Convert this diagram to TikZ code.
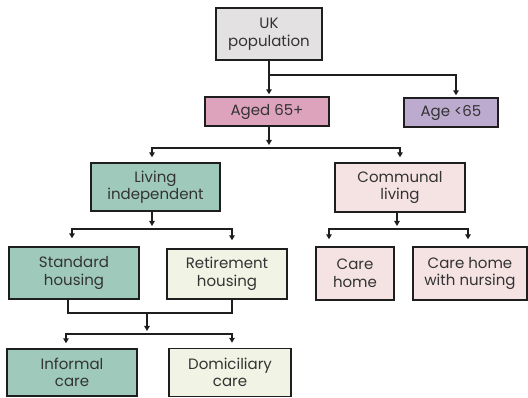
\documentclass[tikz,border=0pt]{standalone}
\usepackage{fontspec}
\setmainfont{Poppins}
\usetikzlibrary{arrows.meta}
\definecolor{cgrey}{HTML}{E3E1E2}
\definecolor{cpink}{HTML}{DDA3BC}
\definecolor{clav}{HTML}{BDABCF}
\definecolor{cteal}{HTML}{9FC9BB}
\definecolor{clight}{HTML}{F5E2E3}
\definecolor{ccream}{HTML}{F1F3E4}
\definecolor{ctext}{HTML}{333333}
\definecolor{cline}{HTML}{1E1E1E}
\tikzset{
  box/.style={draw=cline, line width=1.4pt, align=center, text=ctext,
    font=\fontsize{15}{17.5}\selectfont, inner sep=0pt},
  link/.style={draw=cline, line width=1.2pt},
  arr/.style={link, -{Triangle[length=5pt,width=5.5pt]}},
}
\begin{document}
\begin{tikzpicture}[x=1pt,y=-1pt]
\useasboundingbox (0,0) rectangle (528,398);
% boxes
\node[box, fill=cgrey, minimum width=106pt, minimum height=52pt] (up) at (269,34) {UK\\population};
\node[box, fill=cpink, minimum width=124pt, minimum height=29pt] (aged) at (267,111.5) {Aged 65+};
\node[box, fill=clav, minimum width=94pt, minimum height=29pt] (under) at (451,112.5) {Age <65};
\node[box, fill=cteal, minimum width=129pt, minimum height=48pt] (living) at (155.5,187) {Living\\independent};
\node[box, fill=clight, minimum width=130pt, minimum height=49pt] (communal) at (400,187.5) {Communal\\living};
\node[box, fill=cteal, minimum width=130pt, minimum height=52pt] (standard) at (74,273) {Standard\\housing};
\node[box, fill=ccream, minimum width=120pt, minimum height=50pt] (retire) at (227,274) {Retirement\\housing};
\node[box, fill=clight, minimum width=78pt, minimum height=53pt] (carehome) at (355,273.5) {Care\\home};
\node[box, fill=clight, minimum width=114pt, minimum height=53pt] (nursing) at (470,273.5) {Care home\\with nursing};
\node[box, fill=cteal, minimum width=130pt, minimum height=47pt] (informal) at (72,372.5) {Informal\\care};
\node[box, fill=ccream, minimum width=122pt, minimum height=48pt] (domic) at (230,372.5) {Domiciliary\\care};
% junction coordinates
\coordinate (b0) at (269,75);
\coordinate (b1) at (269,148);
\coordinate (b2) at (152,229);
\coordinate (b3) at (397,229);
\coordinate (b4) at (147,313);
\coordinate (b5) at (147,334);
% UK population
\draw[arr, shorten >=2pt] (up.south) -- (up.south |- aged.north);
\draw[arr, shorten >=2pt] (b0) -| (456,0 |- under.north);
% Aged 65+
\draw[arr, shorten >=3pt] (aged.south -| b1) -- (b1);
\draw[arr, shorten >=5pt] (b1) -| (152,0 |- living.north);
\draw[arr, shorten >=5pt] (b1) -| (400,0 |- communal.north);
% Living independent
\draw[arr, shorten >=3pt] (living.south -| b2) -- (b2);
\draw[arr, shorten >=8pt] (b2) -| (72,0 |- standard.north);
\draw[arr, shorten >=8pt] (b2) -| (232,0 |- retire.north);
% Communal
\draw[arr, shorten >=3pt] (communal.south -| b3) -- (b3);
\draw[arr, shorten >=7pt] (b3) -| (329,0 |- carehome.north);
\draw[arr, shorten >=7pt] (b3) -| (468,0 |- nursing.north);
% housing merge
\draw[link] (standard.south -| 68,0) |- (b4) -| (retire.south -| 232,0);
\draw[arr, shorten >=3pt] (b4) -- (b5);
\draw[arr, shorten >=5pt] (b5) -| (66,0 |- informal.north);
\draw[arr, shorten >=5pt] (b5) -| (232,0 |- domic.north);
\end{tikzpicture}
\end{document}
